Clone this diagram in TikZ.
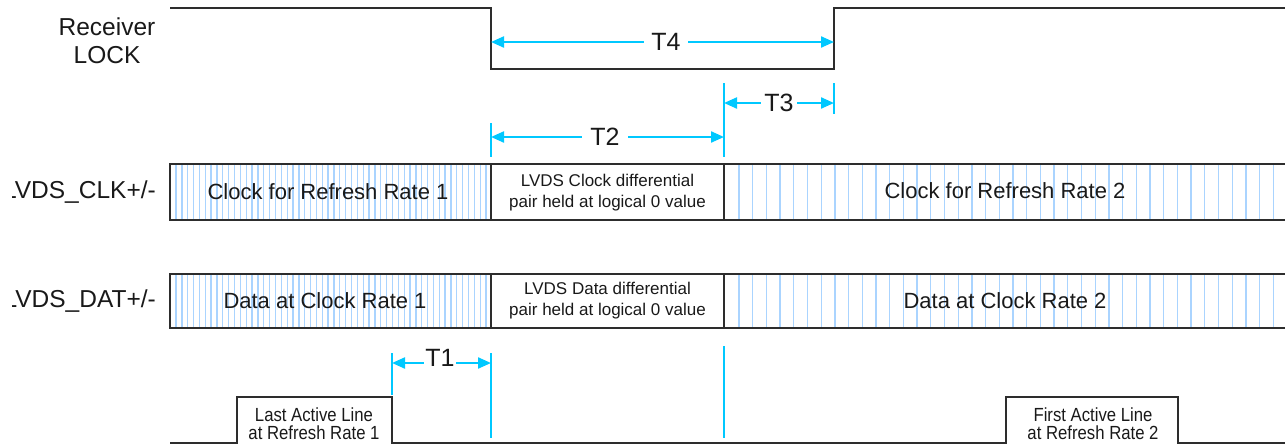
\documentclass[tikz,border=0pt]{standalone}
\usepackage{fontspec}
\setmainfont{Liberation Sans}
\newfontfamily\narrowfont[FakeStretch=0.88]{Liberation Sans}
\usetikzlibrary{arrows.meta}
\definecolor{cyanline}{RGB}{0,200,255}
\definecolor{stripecol}{RGB}{170,212,255}
\definecolor{sigcol}{RGB}{45,45,45}
\definecolor{txtcol}{RGB}{25,25,25}
\tikzset{
  sigline/.style={draw=sigcol, line width=1.8pt, line join=miter},
  dimline/.style={draw=cyanline, line width=2.2pt,
    {Triangle[length=13pt,width=11pt]}-{Triangle[length=13pt,width=11pt]}},
  dimtick/.style={draw=cyanline, line width=2.2pt},
  stripeline/.style={draw=stripecol, line width=1.3pt},
  tlabel/.style={font=\fontsize{25}{25}\selectfont, text=txtcol, fill=white, inner ysep=1pt},
  siglabel/.style={font=\fontsize{24.5}{28}\selectfont, text=txtcol, align=center, inner sep=0pt},
  boxtext/.style={font=\fontsize{22}{22}\selectfont, text=txtcol, inner sep=0pt},
  smalltext/.style={font=\fontsize{17}{21}\selectfont, text=txtcol, align=center, inner sep=0pt},
  pulsetext/.style={font=\narrowfont\fontsize{19}{18}\selectfont, text=txtcol, align=center, inner sep=0pt},
}
\begin{document}
\begin{tikzpicture}[x=1pt, y=-1pt]
\useasboundingbox (0,0) rectangle (1285,445);
\clip (0,0) rectangle (1285,445);

% key coordinates
\coordinate (L0) at (170,8);
\coordinate (La) at (491,8);
\coordinate (Lb) at (491,69);
\coordinate (Lc) at (834,69);
\coordinate (Ld) at (834,8);
\coordinate (Le) at (1300,8);

% signal labels
\node[siglabel] (rxlock) at (107,41) {Receiver\\LOCK};
\begin{scope}
  \clip (12,150) rectangle (170,330);
  \node[siglabel, anchor=east] (clklab) at (156,192) {LVDS\_CLK+/-};
  \node[siglabel, anchor=east] (datlab) at (156,301) {LVDS\_DAT+/-};
\end{scope}

% Receiver LOCK waveform
\draw[sigline] (L0) -- (La) -- (Lb) -- (Lc) -- (Ld) -- (Le);

% stripes CLK and DAT
\foreach \y/\h in {165/219, 275/327} {
  \foreach \x in {176,181.85,...,489} \draw[stripeline] (\x,\y) -- (\x,\h);
  \foreach \x in {739,752.7,...,1285} \draw[stripeline] (\x,\y) -- (\x,\h);
}

% CLK box
\draw[sigline] (1300,164) -- (170,164) -- (170,220) -- (1300,220);
\draw[sigline] (491,164) -- (491,220);
\draw[sigline] (724,164) -- (724,220);
% DAT box
\draw[sigline] (1300,274) -- (170,274) -- (170,328) -- (1300,328);
\draw[sigline] (491,274) -- (491,328);
\draw[sigline] (724,274) -- (724,328);

\node[boxtext] (clk1) at (328,192) {Clock for Refresh Rate 1};
\node[boxtext] (clk2) at (1005,191) {Clock for Refresh Rate 2};
\node[boxtext] (dat1) at (325,301) {Data at Clock Rate 1};
\node[boxtext] (dat2) at (1005,301) {Data at Clock Rate 2};
\node[smalltext] (clk0) at (607.5,192.5) {LVDS Clock differential\\pair held at logical 0 value};
\node[smalltext] (dat0) at (607.5,301) {LVDS Data differential\\pair held at logical 0 value};

% bottom waveform
\coordinate (B0) at (170,443);
\coordinate (B1) at (237,443);
\coordinate (B2) at (237,397);
\coordinate (B3) at (392,397);
\coordinate (B4) at (392,443);
\coordinate (B5) at (1006,443);
\coordinate (B6) at (1006,397);
\coordinate (B7) at (1178,397);
\coordinate (B8) at (1178,443);
\coordinate (B9) at (1300,443);
\draw[sigline] (B0) -- (B1) -- (B2) -- (B3) -- (B4) -- (B5) -- (B6) -- (B7) -- (B8) -- (B9);
\node[pulsetext] (last) at (314,424) {Last Active Line\\at Refresh Rate 1};
\node[pulsetext] (first) at (1093,424) {First Active Line\\at Refresh Rate 2};

% cyan ticks
\coordinate (t2a) at (491,123); \coordinate (t2b) at (491,157);
\coordinate (t3a) at (724,83);  \coordinate (t3b) at (724,157);
\coordinate (t4a) at (834,83);  \coordinate (t4b) at (834,114);
\coordinate (t1a) at (392,353); \coordinate (t1b) at (392,395);
\coordinate (t5a) at (491,353); \coordinate (t5b) at (491,438);
\coordinate (t6a) at (724,346); \coordinate (t6b) at (724,438);
\draw[dimtick] (t2a) -- (t2b);
\draw[dimtick] (t3a) -- (t3b);
\draw[dimtick] (t4a) -- (t4b);
\draw[dimtick] (t1a) -- (t1b);
\draw[dimtick] (t5a) -- (t5b);
\draw[dimtick] (t6a) -- (t6b);

% dimension arrows
\coordinate (d4a) at (491,42); \coordinate (d4b) at (834,42);
\coordinate (d3a) at (724,103); \coordinate (d3b) at (834,103);
\coordinate (d2a) at (491,137); \coordinate (d2b) at (724,137);
\coordinate (d1a) at (392,363); \coordinate (d1b) at (491,363);
\draw[dimline] (d4a) -- (d4b);
\draw[dimline] (d3a) -- (d3b);
\draw[dimline] (d2a) -- (d2b);
\draw[dimline] (d1a) -- (d1b);
\node[tlabel, inner xsep=7pt] (T4) at (666,42) {T4};
\node[tlabel, inner xsep=3.5pt] (T3) at (779,103) {T3};
\node[tlabel, inner xsep=8pt] (T2) at (605,137) {T2};
\node[tlabel, inner xsep=1pt] (T1) at (440,358) {T1};
\end{tikzpicture}
\end{document}
